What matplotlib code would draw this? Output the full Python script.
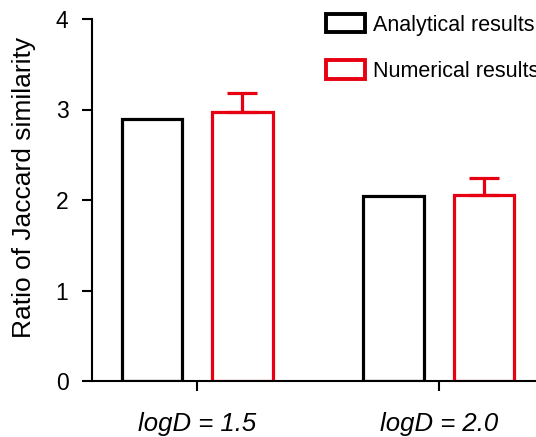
import numpy as np
import matplotlib.pyplot as plt
from matplotlib.patches import Patch

plt.rcParams['font.family'] = ['Liberation Sans', 'DejaVu Sans']

groups = ["logD = 1.5", "logD = 2.0"]
analytical = [2.89, 2.04]
numerical = [2.97, 2.05]
numerical_err = [0.21, 0.19]

BLACK = "#000000"
RED = "#e60012"

fig = plt.figure(figsize=(5.36, 4.37), dpi=100)
ax = fig.add_axes([92 / 536, 56 / 437, 1 - 92 / 536, 362 / 437])

x = np.arange(len(groups))
w = 0.251
off = 0.187
ax.bar(x - off, analytical, w, facecolor="white", edgecolor=BLACK, linewidth=2.3)
ax.bar(x + off, numerical, w, facecolor="white", edgecolor=RED, linewidth=2.3)
ax.errorbar(x + off, numerical, yerr=[np.zeros(len(groups)), numerical_err],
            fmt="none", ecolor=RED, elinewidth=2.3, capsize=11, capthick=2.3)

ax.set_xlim(-0.435, 1.402)
ax.set_ylim(0, 4)
ax.set_yticks([0, 1, 2, 3, 4])
ax.set_xticks(x)
ax.set_xticklabels(groups, fontstyle="italic", fontsize=18.5)
ax.tick_params(axis="y", labelsize=16.5, length=7, width=1.5, pad=10)
ax.tick_params(axis="x", length=7, width=1.5, pad=15)
ax.spines["top"].set_visible(False)
ax.spines["right"].set_visible(False)
ax.spines["left"].set_linewidth(1.5)
ax.spines["bottom"].set_linewidth(1.5)
ax.set_ylabel("Ratio of Jaccard similarity", fontsize=19)
ax.yaxis.set_label_coords(-0.125, 0.535)

handles = [Patch(facecolor="white", edgecolor=BLACK, linewidth=2.8),
           Patch(facecolor="white", edgecolor=RED, linewidth=2.8)]
fig.legend(handles, ["Analytical results", "Numerical results"],
           loc="upper left", bbox_to_anchor=(326 / 536, 1 - 14 / 437), frameon=False,
           fontsize=15.5, handlelength=1.8, handleheight=0.93,
           labelspacing=1.15, handletextpad=0.37, borderpad=0, borderaxespad=0)

fig.savefig("out.png", dpi=100)
